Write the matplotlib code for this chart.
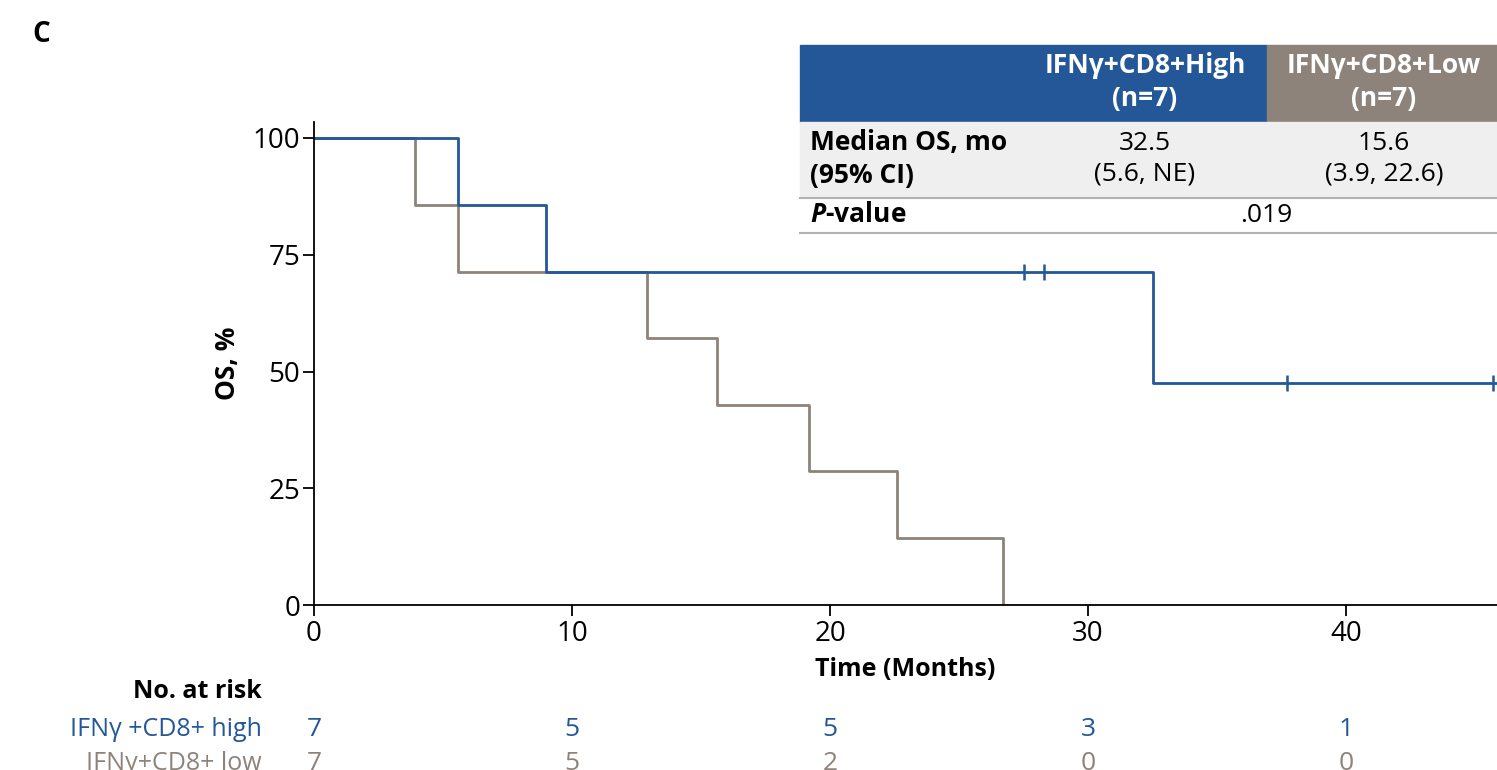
import matplotlib
matplotlib.use('Agg')
import matplotlib.pyplot as plt
import matplotlib.transforms as mtransforms
from matplotlib.patches import Rectangle
from matplotlib.lines import Line2D

plt.rcParams['font.family'] = ['Open Sans', 'DejaVu Sans']
plt.rcParams['mathtext.fontset'] = 'custom'
plt.rcParams['mathtext.bfit'] = 'Open Sans:italic:bold'

# ---- data ----
high_times = [0, 5.6, 9.0, 32.5, 45.9]
high_surv = [100, 85.7, 71.4, 47.6, 47.6]
high_cens_t = [27.5, 28.3, 37.7, 45.7]
high_cens_s = [71.4, 71.4, 47.6, 47.6]

low_times = [0, 3.9, 5.6, 12.9, 15.6, 19.2, 22.6, 26.7]
low_surv = [100, 85.7, 71.4, 57.1, 42.9, 28.6, 14.3, 0]

risk_times = [0, 10, 20, 30, 40]
risk_high = [7, 5, 5, 3, 1]
risk_low = [7, 5, 2, 0, 0]
risk_labels = ['IFNγ +CD8+ high', 'IFNγ+CD8+ low']

col_heads = ['IFNγ+CD8+High\n(n=7)', 'IFNγ+CD8+Low\n(n=7)']
median_txt = ['32.5\n(5.6, NE)', '15.6\n(3.9, 22.6)']
p_value = '.019'

BLUE = '#235797'
GREY = '#8d837a'
FS = 18
TFS = 19  # table text

W, H = 1497, 770


def fx(px):
    return px / W


def fy(py):
    return 1 - py / H


fig = plt.figure(figsize=(W / 100, H / 100), dpi=100)
ax = fig.add_axes([fx(314), fy(605), fx(1497) - fx(314), fy(122) - fy(605)])

ax.step(low_times, low_surv, where='post', color=GREY, lw=2.0)
ax.step(high_times, high_surv, where='post', color=BLUE, lw=2.0)
ax.plot(high_cens_t, high_cens_s, ls='none', marker='|', ms=11, mew=1.8, color=BLUE)

ax.set_xlim(0, 45.85)
ax.set_ylim(0, 100 * (605 - 122) / (605 - 138))
ax.set_xticks([0, 10, 20, 30, 40])
ax.set_yticks([0, 25, 50, 75, 100])
for s in ['top', 'right']:
    ax.spines[s].set_visible(False)
for s in ['left', 'bottom']:
    ax.spines[s].set_linewidth(1.3)
ax.tick_params(axis='both', direction='out', length=8, width=1.3, labelsize=20)
ax.tick_params(axis='x', pad=3)
ax.tick_params(axis='y', pad=2)
ax.set_xlabel('Time (Months)', fontsize=FS, fontweight='bold', labelpad=6)
ax.set_ylabel('OS, %', fontsize=FS + 1, fontweight='bold', labelpad=8)

fig.text(fx(32), fy(34), 'C', fontsize=20, fontweight='bold', va='center', ha='left')

# ---- summary table ----
x0 = 800
fig.patches.append(Rectangle((fx(x0), fy(122)), fx(1267) - fx(x0), fy(45) - fy(122),
                             transform=fig.transFigure, color=BLUE, zorder=0))
fig.patches.append(Rectangle((fx(1267), fy(122)), fx(1497) - fx(1267), fy(45) - fy(122),
                             transform=fig.transFigure, color=GREY, zorder=0))
fig.patches.append(Rectangle((fx(x0), fy(198)), fx(1497) - fx(x0), fy(122) - fy(198),
                             transform=fig.transFigure, color='#efefef', zorder=0))
for yy in [198, 233]:
    fig.lines.append(Line2D([fx(x0), 1], [fy(yy), fy(yy)], transform=fig.transFigure,
                            color='#b3b3b3', lw=1.5))

fig.text(fx(1145), fy(82), col_heads[0], color='white', fontsize=TFS, fontweight='bold',
         ha='center', va='center', linespacing=1.3)
fig.text(fx(1384), fy(82), col_heads[1], color='white', fontsize=TFS, fontweight='bold',
         ha='center', va='center', linespacing=1.3)
fig.text(fx(810), fy(159), 'Median OS, mo\n(95% CI)', fontsize=TFS, fontweight='bold',
         ha='left', va='center', linespacing=1.3)
fig.text(fx(1145), fy(159), median_txt[0], fontsize=TFS, ha='center', va='center', linespacing=1.3)
fig.text(fx(1384), fy(159), median_txt[1], fontsize=TFS, ha='center', va='center', linespacing=1.3)
fig.text(fx(810), fy(215), r'$\bfit{P}$' + '-value', fontsize=TFS, fontweight='bold',
         ha='left', va='center')
fig.text(fx(1266), fy(215), p_value, fontsize=TFS, ha='center', va='center')

# ---- number at risk ----
trans = mtransforms.blended_transform_factory(ax.transData, fig.transFigure)
fig.text(fx(262), fy(692), 'No. at risk', fontsize=FS, fontweight='bold', ha='right', va='center')
for row_y, lab, vals, c in [(729, risk_labels[0], risk_high, BLUE), (763, risk_labels[1], risk_low, GREY)]:
    fig.text(fx(262), fy(row_y), lab, fontsize=FS, color=c, ha='right', va='center')
    for t, v in zip(risk_times, vals):
        ax.text(t, fy(row_y), str(v), transform=trans, fontsize=FS + 1, color=c,
                ha='center', va='center', clip_on=False)

fig.savefig('out.png', dpi=100)
